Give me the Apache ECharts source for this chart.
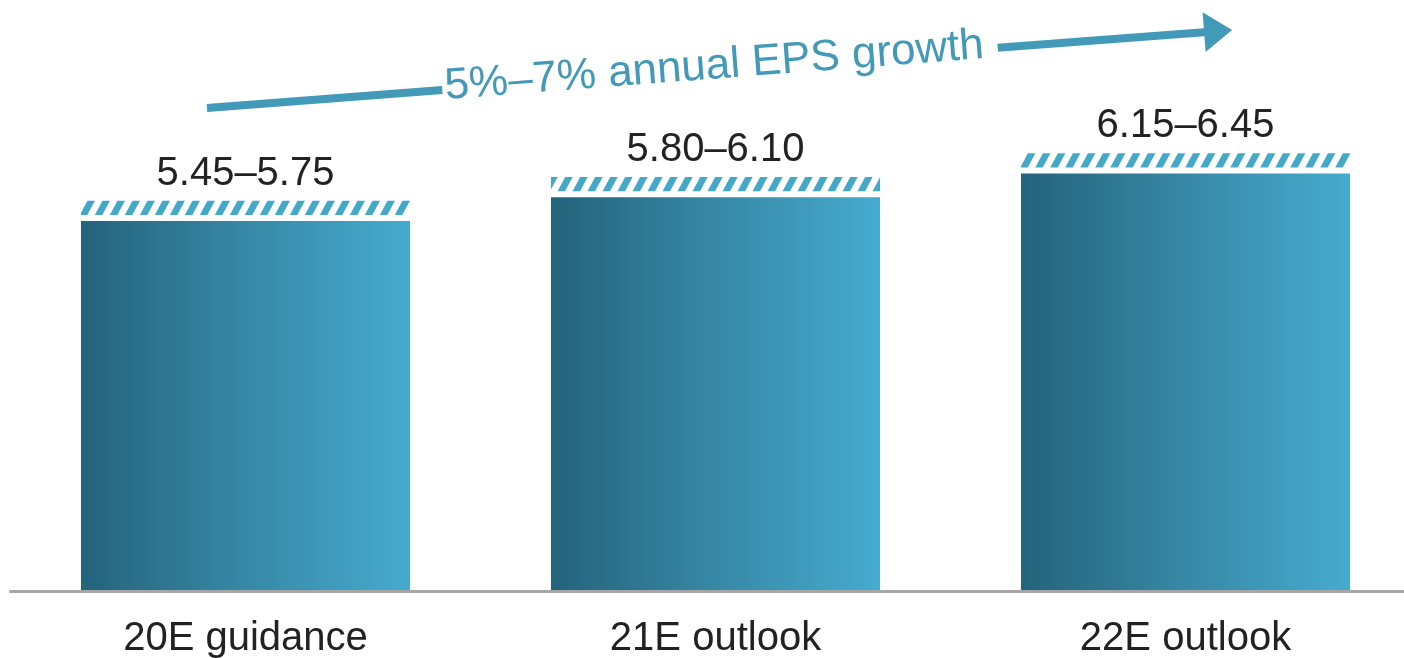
<!DOCTYPE html>
<html>
<head>
<meta charset="utf-8">
<script src="https://cdn.jsdelivr.net/npm/echarts@6/dist/echarts.min.js"></script>
<style>
  html, body { margin: 0; padding: 0; background: #ffffff; }
  #chart { width: 1404px; height: 658px; }
</style>
</head>
<body>
<div id="chart"></div>
<script>
// EPS outlook: solid bar at the low end of each range, hatched band up to the high end
const categories = ['20E guidance', '21E outlook', '22E outlook'];
const epsLow = [5.45, 5.80, 6.15];
const epsHigh = [5.75, 6.10, 6.45];
const growthLabel = '5%–7% annual EPS growth';

const FONT = "'Liberation Sans', Arial, sans-serif";
const TEAL = '#4299b8';
const HATCH = '#44a8c9';
const BAR_RATIO = 0.7;

// Diagonal "/" stripe tile used to fill the range band
function stripeTile() {
  const w = 15, h = 28, sw = 7.5;
  const c = document.createElement('canvas');
  c.width = w; c.height = h;
  const g = c.getContext('2d');
  g.fillStyle = HATCH;
  for (const dx of [-w, 0, w]) {
    g.beginPath();
    g.moveTo(dx, h);
    g.lineTo(dx + sw, h);
    g.lineTo(dx + w + sw, 0);
    g.lineTo(dx + w, 0);
    g.closePath();
    g.fill();
  }
  return c;
}
const stripes = { image: stripeTile(), repeat: 'repeat' };

const barGradient = new echarts.graphic.LinearGradient(0, 0, 1, 0, [
  { offset: 0, color: '#24637b' },
  { offset: 0.5, color: '#3788a6' },
  { offset: 1, color: '#46abcf' }
]);

const chart = echarts.init(document.getElementById('chart'), null, { renderer: 'canvas' });

// Growth arrow geometry (rotated group)
const arrowAngle = Math.atan2(78, 1025);

chart.setOption({
  animation: false,
  backgroundColor: '#ffffff',
  grid: { left: 10.5, right: -16.5, top: 48, bottom: 67, containLabel: false, outerBoundsMode: 'none' },
  xAxis: {
    type: 'category',
    data: categories,
    z: 10,
    axisTick: { show: false },
    axisLine: { lineStyle: { color: '#a6a6a6', width: 3 } },
    axisLabel: { fontSize: 40, color: '#222222', fontFamily: FONT, margin: 28 }
  },
  yAxis: { type: 'value', min: 0, max: 8, show: false, splitLine: { show: false } },
  series: [
    {
      type: 'bar',
      data: epsLow,
      barWidth: (BAR_RATIO * 100) + '%',
      silent: true,
      itemStyle: { color: barGradient }
    },
    {
      type: 'custom',
      silent: true,
      data: categories.map((c, i) => [i, epsLow[i], epsHigh[i]]),
      renderItem(params, api) {
        const i = api.value(0);
        const top = api.coord([i, api.value(2)]);
        const bottom = api.coord([i, api.value(1)]);
        const bw = api.size([1, 0])[0] * BAR_RATIO;
        const gap = 6;
        return {
          type: 'group',
          children: [
            {
              type: 'rect',
              shape: { x: top[0] - bw / 2, y: top[1], width: bw, height: bottom[1] - gap - top[1] },
              style: { fill: stripes }
            },
            {
              type: 'text',
              x: top[0],
              y: top[1] - 27,
              style: {
                text: epsLow[i].toFixed(2) + '–' + epsHigh[i].toFixed(2),
                fill: '#222222',
                fontSize: 40,
                fontFamily: FONT,
                align: 'center',
                verticalAlign: 'middle'
              }
            }
          ]
        };
      }
    }
  ],
  graphic: [
    {
      type: 'group',
      x: 207,
      y: 108,
      rotation: arrowAngle,
      silent: true,
      children: [
        { type: 'line', shape: { x1: 0, y1: 0, x2: 236, y2: 0 }, style: { stroke: TEAL, lineWidth: 8 } },
        {
          type: 'text', x: 509, y: -3,
          style: { text: growthLabel, fill: TEAL, fontSize: 44, fontFamily: FONT, align: 'center', verticalAlign: 'middle' }
        },
        { type: 'line', shape: { x1: 793, y1: 0, x2: 1003, y2: 0 }, style: { stroke: TEAL, lineWidth: 8 } },
        { type: 'polygon', shape: { points: [[1000, -20], [1028, 0], [1000, 20]] }, style: { fill: TEAL } }
      ]
    }
  ]
});
</script>
</body>
</html>
